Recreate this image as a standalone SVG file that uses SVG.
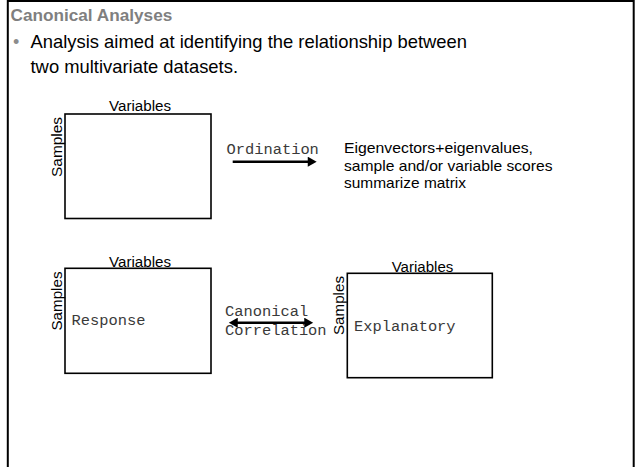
<svg xmlns="http://www.w3.org/2000/svg" width="636" height="467" viewBox="0 0 636 467">
<style>
.sans{font-family:"Liberation Sans",Arial,sans-serif;fill:#000}
.mono{font-family:"Liberation Mono","Courier New",monospace;font-size:15.4px;fill:#3a3a3a}
.box{fill:#fff;stroke:#000;stroke-width:1.6}
.lbl{font-family:"Liberation Sans",Arial,sans-serif;font-size:14px;fill:#000}
.smp{font-family:"Liberation Sans",Arial,sans-serif;font-size:15px;fill:#000}
.conn{stroke:#000;stroke-width:2.4;fill:none}
</style>
<defs>
<marker id="ah" markerUnits="userSpaceOnUse" markerWidth="10" markerHeight="10" refX="2" refY="4.5" orient="auto-start-reverse" viewBox="0 0 8 9">
<path d="M0,0 L8,4.5 L0,9 z" fill="#000"/>
</marker>
</defs>
<rect width="636" height="467" fill="#fff"/>
<path d="M7.8,470 V1 H633.7 V470" fill="none" stroke="#000" stroke-width="2"/>
<g id="header">
<text class="sans" x="10.5" y="20.5" font-size="17.2" font-weight="bold" style="fill:#7f7f7f">Canonical Analyses</text>
<text class="sans" x="13" y="48" font-size="18" style="fill:#8c8c8c">•</text>
<text class="sans" x="30.5" y="48" font-size="18.4">Analysis aimed at identifying the relationship between</text>
<text class="sans" x="30.5" y="73" font-size="18.4">two multivariate datasets.</text>
</g>
<g id="matrix1">
<rect class="box" x="65" y="114" width="146" height="104.5"/>
<text class="lbl" x="109" y="111" textLength="62" lengthAdjust="spacingAndGlyphs">Variables</text>
<text class="smp" transform="translate(62,147) rotate(-90)" text-anchor="middle" textLength="60" lengthAdjust="spacingAndGlyphs">Samples</text>
</g>
<g id="ordination-result">
<text class="sans" font-size="15" x="344" y="153.3" textLength="189" lengthAdjust="spacingAndGlyphs">Eigenvectors+eigenvalues,</text>
<text class="sans" font-size="15" x="344" y="170.8" textLength="208.5" lengthAdjust="spacingAndGlyphs">sample and/or variable scores</text>
<text class="sans" font-size="15" x="344" y="188.2" textLength="122" lengthAdjust="spacingAndGlyphs">summarize matrix</text>
</g>
<g id="response">
<rect class="box" x="65" y="268.3" width="146" height="105"/>
<text class="lbl" x="109" y="266.5" textLength="62" lengthAdjust="spacingAndGlyphs">Variables</text>
<text class="smp" transform="translate(62,301) rotate(-90)" text-anchor="middle" textLength="59" lengthAdjust="spacingAndGlyphs">Samples</text>
<text class="mono" x="71.5" y="325">Response</text>
</g>
<g id="explanatory">
<rect class="box" x="347.3" y="273.3" width="145" height="104.4"/>
<text class="lbl" x="391.7" y="271.5" textLength="61.6" lengthAdjust="spacingAndGlyphs">Variables</text>
<text class="smp" transform="translate(344,305.5) rotate(-90)" text-anchor="middle" textLength="59" lengthAdjust="spacingAndGlyphs">Samples</text>
<text class="mono" x="354" y="330.7">Explanatory</text>
</g>
<g id="connectors">
<line class="conn" x1="232.7" y1="161.7" x2="310" y2="161.7" marker-end="url(#ah)"/>
<text class="mono" x="226.5" y="154">Ordination</text>
<line class="conn" x1="235.5" y1="322.7" x2="306.5" y2="322.7" marker-start="url(#ah)" marker-end="url(#ah)"/>
<text class="mono" x="225" y="316">Canonical</text>
<text class="mono" x="225" y="335">Correlation</text>
</g>
</svg>
